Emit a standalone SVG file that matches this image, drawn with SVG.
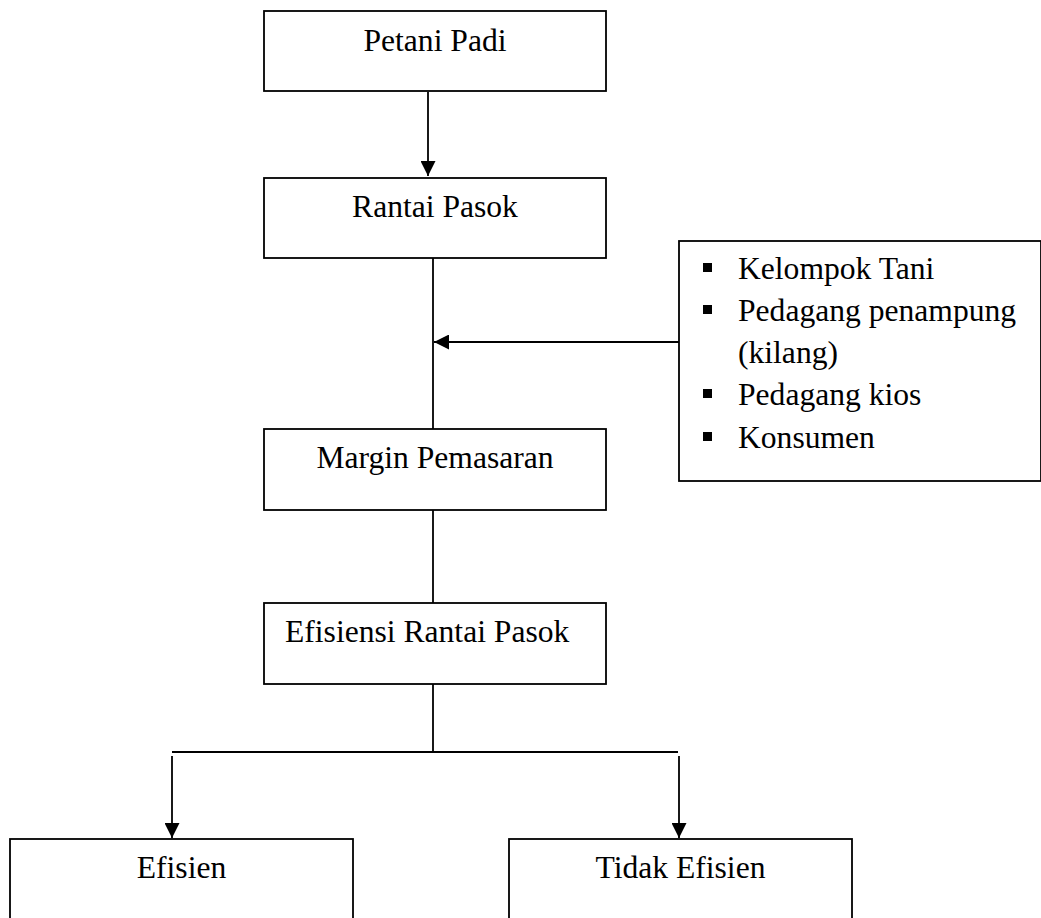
<svg xmlns="http://www.w3.org/2000/svg" width="1041" height="918" viewBox="0 0 1041 918">
<defs>
<style>
.box{fill:#fff;stroke:#000;stroke-width:1.8}
.t{font-family:"Liberation Serif","Times New Roman",serif;font-size:31.6px;fill:#000}
.c{text-anchor:middle}
.ln{fill:none;stroke:#000;stroke-width:1.8}
.bul{fill:#000}
</style>
<marker id="ah" markerUnits="userSpaceOnUse" markerWidth="15" markerHeight="15" refX="15" refY="7.5" orient="auto">
<path d="M0,0 L15,7.5 L0,15 z" fill="#000"/>
</marker>
</defs>
<rect width="1041" height="918" fill="#fff"/>
<g id="connectors">
<line class="ln" x1="428" y1="92" x2="428" y2="176" marker-end="url(#ah)"/>
<line class="ln" x1="433" y1="258" x2="433" y2="429"/>
<line class="ln" x1="679" y1="342" x2="434" y2="342" marker-end="url(#ah)"/>
<line class="ln" x1="433" y1="510" x2="433" y2="603"/>
<line class="ln" x1="433" y1="684" x2="433" y2="752"/>
<line class="ln" x1="172" y1="752" x2="678" y2="752" style="stroke-width:2.2"/>
<line class="ln" x1="172" y1="756" x2="172" y2="838" marker-end="url(#ah)"/>
<line class="ln" x1="679" y1="756" x2="679" y2="838" marker-end="url(#ah)"/>
</g>
<g id="petani-padi">
<rect class="box" x="264" y="11" width="342" height="80"/>
<text class="t c" x="435" y="51">Petani Padi</text>
</g>
<g id="rantai-pasok">
<rect class="box" x="264" y="178" width="342" height="80"/>
<text class="t c" x="435" y="217">Rantai Pasok</text>
</g>
<g id="pelaku">
<rect class="box" x="679" y="241" width="362" height="240"/>
<rect class="bul" x="703" y="263" width="9" height="9"/>
<text class="t" x="738" y="279">Kelompok Tani</text>
<rect class="bul" x="703" y="305" width="9" height="9"/>
<text class="t" x="738" y="321">Pedagang penampung</text>
<text class="t" x="738" y="363">(kilang)</text>
<rect class="bul" x="703" y="389" width="9" height="9"/>
<text class="t" x="738" y="405">Pedagang kios</text>
<rect class="bul" x="703" y="432" width="9" height="9"/>
<text class="t" x="738" y="448">Konsumen</text>
</g>
<g id="margin-pemasaran">
<rect class="box" x="264" y="429" width="342" height="81"/>
<text class="t c" x="435" y="468">Margin Pemasaran</text>
</g>
<g id="efisiensi-rantai-pasok">
<rect class="box" x="264" y="603" width="342" height="81"/>
<text class="t" x="285" y="642">Efisiensi Rantai Pasok</text>
</g>
<g id="efisien">
<rect class="box" x="10" y="839" width="343" height="90"/>
<text class="t c" x="181.5" y="878">Efisien</text>
</g>
<g id="tidak-efisien">
<rect class="box" x="509" y="839" width="343" height="90"/>
<text class="t c" x="680.5" y="878">Tidak Efisien</text>
</g>
</svg>
